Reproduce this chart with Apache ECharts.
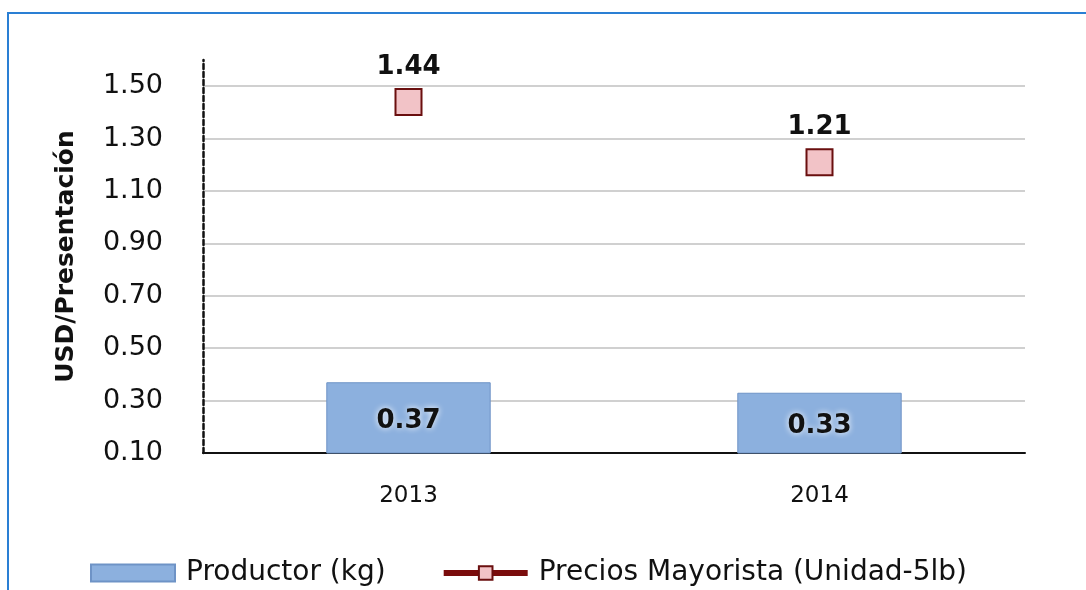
<!DOCTYPE html>
<html>
<head>
<meta charset="utf-8">
<script src="https://cdn.jsdelivr.net/npm/echarts@6/dist/echarts.min.js"></script>
<style>
  html, body { margin: 0; padding: 0; background: #fff; }
  #frame {
    position: absolute; left: 7px; top: 12px; right: 0; bottom: 0;
    border-top: 2px solid #2a7fd4; border-left: 2px solid #2a7fd4;
  }
  #chart { position: absolute; left: 0; top: 0; width: 1086px; height: 590px; }
</style>
</head>
<body>
<div id="frame"></div>
<div id="chart"></div>
<script>
// datos
const years = ['2013', '2014']
const productor = [0.37, 0.33]
const mayorista = [1.44, 1.21]
const yMin = 0.1
const yMax = 1.6
const yStep = 0.2

const font = '"DejaVu Sans", sans-serif'

const chart = echarts.init(document.getElementById('chart'))

chart.setOption({
  animation: false,
  textStyle: { fontFamily: font },
  grid: { left: 203, right: 61, top: 60, bottom: 137 },
  legend: {
    top: 554,
    left: 85,
    itemGap: 55,
    itemWidth: 84,
    itemHeight: 17,
    textStyle: { fontSize: 28, color: '#111', fontFamily: font, padding: [0, 0, 0, 6] },
    data: [
      { name: 'Productor (kg)', icon: 'rect' },
      {
        name: 'Precios Mayorista (Unidad-5lb)',
        lineStyle: { color: '#7a0c0c', width: 6, opacity: 1 }
      }
    ]
  },
  xAxis: {
    type: 'category',
    data: years,
    axisLine: { lineStyle: { color: '#111', width: 2 } },
    axisTick: { show: false },
    axisLabel: { fontSize: 23, color: '#111', margin: 32 }
  },
  yAxis: {
    type: 'value',
    min: yMin,
    max: yMax,
    interval: yStep,
    name: 'USD/Presentación',
    nameLocation: 'middle',
    nameGap: 124,
    nameTextStyle: { fontSize: 25, fontWeight: 'bold', color: '#111' },
    axisLine: { show: true, lineStyle: { color: '#111', width: 2.5, type: [5, 3] } },
    axisTick: { show: false },
    axisLabel: {
      fontSize: 27, color: '#111', margin: 40, showMaxLabel: false,
      formatter: v => v.toFixed(2)
    },
    splitLine: { show: true, showMaxLine: false, lineStyle: { color: '#d0d0d0', width: 2 } }
  },
  series: [
    {
      name: 'Productor (kg)',
      type: 'bar',
      data: productor,
      barWidth: '40%',
      itemStyle: { color: '#8cb0de', borderColor: '#6e93c6', borderWidth: 1 },
      label: {
        show: true,
        position: 'inside',
        offset: [0, 3],
        formatter: p => p.value.toFixed(2),
        fontSize: 26,
        fontWeight: 'bold',
        color: '#111',
        textShadowColor: '#fff',
        textShadowBlur: 6
      }
    },
    {
      name: 'Precios Mayorista (Unidad-5lb)',
      type: 'line',
      data: mayorista,
      symbol: 'rect',
      symbolSize: 26,
      lineStyle: { opacity: 0 },
      itemStyle: { color: '#f2c3c7', borderColor: '#6a0f0f', borderWidth: 2 },
      label: {
        show: true,
        position: 'top',
        distance: 8,
        formatter: p => p.value.toFixed(2),
        fontSize: 26,
        fontWeight: 'bold',
        color: '#111'
      }
    }
  ]
})
</script>
</body>
</html>
